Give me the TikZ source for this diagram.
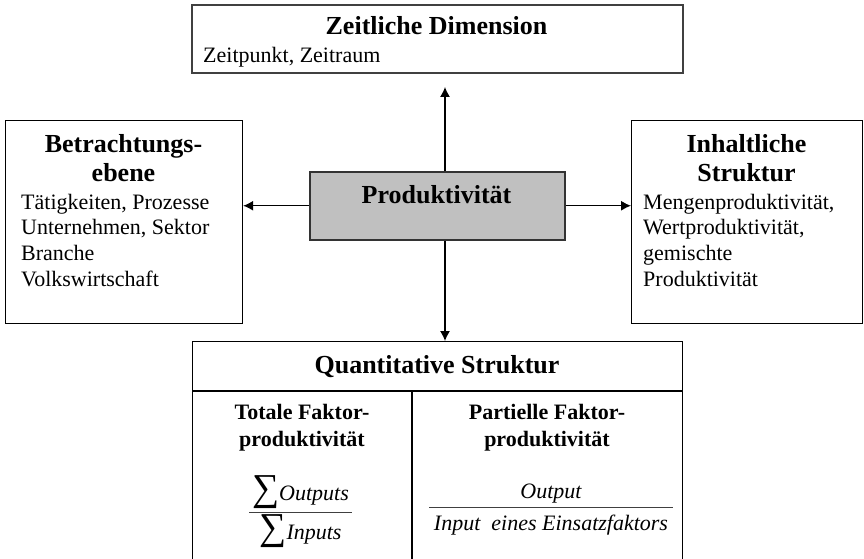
\documentclass[tikz,border=0pt]{standalone}
\usepackage{fontspec}
\setmainfont{Liberation Serif}
\usetikzlibrary{arrows.meta}
\definecolor{silverfill}{RGB}{192,192,192}
\newcommand{\bigsum}{{\fontsize{38}{38}\selectfont\upshape ∑}}
\begin{document}
\begin{tikzpicture}[x=1pt,y=-1pt,
  box/.style={draw, line width=1.2pt, inner sep=0pt, anchor=north west, fill=white},
  ttl/.style={font=\fontsize{26}{30}\selectfont\bfseries, anchor=base, inner sep=0pt},
  bodytxt/.style={font=\fontsize{22}{26}\selectfont, anchor=base west, inner sep=0pt},
  subttl/.style={font=\fontsize{22}{26}\selectfont\bfseries, anchor=base, inner sep=0pt},
  mth/.style={font=\fontsize{22}{26}\selectfont\itshape, anchor=base, inner sep=0pt},
  arr/.style={-{Latex[length=10pt,width=10pt]}, line width=1.2pt},
  fracbar/.style={line width=1pt, draw=black!75}
]
\useasboundingbox (0,0) rectangle (864,559);
\clip (0,0) rectangle (864,559);

% boxes
\node[box, line width=2pt, draw=black!75, minimum width=491pt, minimum height=68pt] (zeit) at (191,4) {};
\node[box, minimum width=237pt, minimum height=203pt] (betr) at (5,120) {};
\node[box, minimum width=231pt, minimum height=203pt] (inh) at (631,120) {};
\node[box, fill=silverfill, line width=1.5pt, draw=black!80, minimum width=255pt, minimum height=68pt] (prod) at (309,171) {};
\node[box, minimum width=490pt, minimum height=240pt] (quant) at (192,341) {};
\draw[line width=1.2pt] (192,391) -- (682,391);
\draw[line width=1.2pt] (412,391) -- (412,580);

% texts: Zeitliche Dimension
\node[ttl] (zt) at (436.5,35) {Zeitliche Dimension};
\node[bodytxt] (zb) at (203,63) {Zeitpunkt, Zeitraum};

% Betrachtungsebene
\node[ttl] (bt1) at (123.5,152) {Betrachtungs-};
\node[ttl] (bt2) at (123.5,181) {ebene};
\node[bodytxt] (bb1) at (21,209) {Tätigkeiten, Prozesse};
\node[bodytxt] (bb2) at (21,234.7) {Unternehmen, Sektor};
\node[bodytxt] (bb3) at (21,260.4) {Branche};
\node[bodytxt] (bb4) at (21,286) {Volkswirtschaft};

% Inhaltliche Struktur
\node[ttl] (it1) at (746.5,153) {Inhaltliche};
\node[ttl] (it2) at (746.5,181) {Struktur};
\node[bodytxt] (ib1) at (643,209) {Mengenproduktivität,};
\node[bodytxt] (ib2) at (643,234.7) {Wertproduktivität,};
\node[bodytxt] (ib3) at (643,260.4) {gemischte};
\node[bodytxt] (ib4) at (643,286) {Produktivität};

% Produktivitaet
\node[ttl] (pt) at (436.5,203) {Produktivität};

% Quantitative Struktur
\node[ttl] (qt) at (437,373) {Quantitative Struktur};
\node[subttl] (ql1) at (302,419.5) {Totale Faktor-};
\node[subttl] (ql2) at (302,446) {produktivität};
\node[subttl] (qr1) at (547,419.5) {Partielle Faktor-};
\node[subttl] (qr2) at (547,446) {produktivität};

% fractions
\node[mth] (numL) at (300.5,500) {\bigsum Outputs};
\node[mth] (denL) at (300.5,539) {\bigsum Inputs};
\draw[fracbar] (249,512) -- (352,512);
\node[mth] (numR) at (551,498) {Output};
\node[mth] (denR) at (551,530) {Input\ \ eines Einsatzfaktors};
\draw[fracbar] (429,507) -- (673,507);

% arrows
\coordinate (upTip) at (445,87);
\draw[arr] (upTip |- prod.north) -- (upTip);
\draw[arr] (upTip |- prod.south) -- (upTip |- quant.north);
\draw[arr] (prod.west) -- (prod.west -| betr.east);
\draw[arr] (prod.east) -- (prod.east -| inh.west);
\end{tikzpicture}
\end{document}
